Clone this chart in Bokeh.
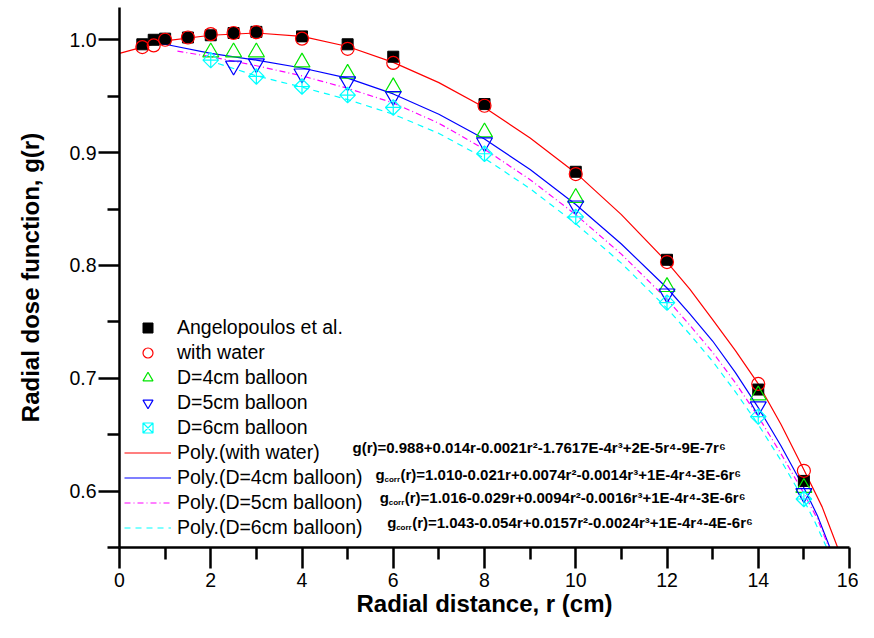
from bokeh.plotting import figure
from bokeh.models import Legend, LegendItem, Label, Range1d, FixedTicker, NumeralTickFormatter
from bokeh.embed import file_html
from bokeh.resources import INLINE
import math

# ---- data ----
r_ang = [0.5, 0.75, 1, 1.5, 2, 2.5, 3, 4, 5, 6, 8, 10, 12, 14, 15]
g_ang = [0.996, 1.000, 1.001, 1.002, 1.004, 1.006, 1.007, 1.003, 0.996, 0.985, 0.943, 0.883, 0.805, 0.690, 0.609]

r_water = [0.5, 0.75, 1, 1.5, 2, 2.5, 3, 4, 5, 6, 8, 10, 12, 14, 15]
g_water = [0.9935, 0.995, 1.000, 1.002, 1.005, 1.006, 1.0067, 1.001, 0.992, 0.9795, 0.9415, 0.881, 0.803, 0.695, 0.618]

r_d4 = [2, 2.5, 3, 4, 5, 6, 8, 10, 12, 14, 15]
g_d4 = [0.989, 0.989, 0.989, 0.980, 0.970, 0.958, 0.918, 0.860, 0.781, 0.685, 0.603]

r_d5 = [2.5, 3, 4, 5, 6, 8, 10, 12, 14, 15]
g_d5 = [0.977, 0.979, 0.970, 0.963, 0.950, 0.909, 0.853, 0.775, 0.675, 0.598]

r_d6 = [2, 3, 4, 5, 6, 8, 10, 12, 14, 15]
g_d6 = [0.982, 0.9675, 0.9586, 0.951, 0.940, 0.899, 0.843, 0.767, 0.666, 0.593]

# polynomial trend lines
fit_water_r = [0, 1, 2, 3, 4, 5, 6, 7, 8, 9, 10, 11, 12, 12.5, 13, 13.5, 14, 14.5, 15, 15.4, 15.74]
fit_water_g = [0.988, 0.999, 1.004, 1.006, 1.003, 0.994, 0.980, 0.962, 0.940, 0.913, 0.882, 0.845, 0.803, 0.779, 0.752, 0.7245, 0.695, 0.659, 0.619, 0.586, 0.55]

fit_d4_r = [0.75, 1, 2, 3, 4, 5, 6, 7, 8, 9, 10, 11, 12, 12.5, 13, 13.5, 14, 14.5, 15, 15.3, 15.57]
fit_d4_g = [0.997, 0.996, 0.988, 0.982, 0.975, 0.966, 0.952, 0.934, 0.912, 0.885, 0.854, 0.819, 0.780, 0.757, 0.733, 0.705, 0.674, 0.640, 0.603, 0.578, 0.55]

fit_d5_r = [1.27, 2, 3, 4, 5, 6, 7, 8, 9, 10, 11, 12, 12.5, 13, 13.5, 14, 14.5, 15, 15.3, 15.55]
fit_d5_g = [0.990, 0.985, 0.977, 0.968, 0.957, 0.944, 0.926, 0.903, 0.876, 0.845, 0.810, 0.770, 0.747, 0.723, 0.696, 0.666, 0.633, 0.598, 0.575, 0.55]

fit_d6_r = [2.16, 3, 4, 5, 6, 7, 8, 9, 10, 11, 12, 12.5, 13, 13.5, 14, 14.5, 15, 15.25, 15.5]
fit_d6_g = [0.979, 0.968, 0.958, 0.947, 0.934, 0.917, 0.895, 0.868, 0.837, 0.802, 0.762, 0.739, 0.715, 0.688, 0.659, 0.627, 0.592, 0.572, 0.55]

x_ticks = [0, 2, 4, 6, 8, 10, 12, 14, 16]
x_minor = [1, 3, 5, 7, 9, 11, 13, 15]
y_ticks = [0.6, 0.7, 0.8, 0.9, 1.0]
y_minor = [0.55, 0.65, 0.75, 0.85, 0.95]

eq_water = "g(r)=0.988+0.014r-0.0021r\u00b2-1.7617E-4r\u00b3+2E-5r\u2074-9E-7r\u2076"
eq_d4 = "(r)=1.010-0.021r+0.0074r\u00b2-0.0014r\u00b3+1E-4r\u2074-3E-6r\u2076"
eq_d5 = "(r)=1.016-0.029r+0.0094r\u00b2-0.0016r\u00b3+1E-4r\u2074-3E-6r\u2076"
eq_d6 = "(r)=1.043-0.054r+0.0157r\u00b2-0.0024r\u00b3+1E-4r\u2074-4E-6r\u2076"

FONT = "Liberation Sans"

p = figure(frame_width=730, frame_height=540,
           x_range=Range1d(0, 16), y_range=Range1d(0.55, 1.0286),
           output_backend="svg", toolbar_location=None,
           min_border_left=119, min_border_right=9, min_border_top=7, min_border_bottom=75)
p.outline_line_color = None
p.xgrid.visible = False
p.ygrid.visible = False
p.background_fill_color = "white"
p.border_fill_color = "white"

for ax in (p.xaxis[0], p.yaxis[0]):
    ax.axis_line_width = 2.5
    ax.axis_line_color = "black"
    ax.major_tick_line_width = 2.5
    ax.minor_tick_line_width = 2.5
    ax.major_tick_in = 0
    ax.minor_tick_in = 0
    ax.major_tick_out = 21
    ax.minor_tick_out = 12
    ax.major_label_text_font = FONT
    ax.major_label_text_font_size = "19.5px"
    ax.major_label_text_color = "black"
    ax.axis_label_text_font = FONT
    ax.axis_label_text_font_style = "bold"
    ax.axis_label_text_font_size = "24px"
    ax.axis_label_text_color = "black"

p.xaxis.ticker = FixedTicker(ticks=x_ticks, minor_ticks=x_minor)
p.yaxis.ticker = FixedTicker(ticks=y_ticks, minor_ticks=y_minor)
p.yaxis.formatter = NumeralTickFormatter(format="0.0")
p.xaxis.major_label_standoff = 4
p.yaxis.major_label_standoff = 2
p.xaxis.axis_label = "Radial distance, r (cm)"
p.yaxis.axis_label = "Radial dose function, g(r)"
p.xaxis.axis_label_standoff = 0
p.yaxis.axis_label_standoff = 22

# trend lines
l_w = p.line(fit_water_r, fit_water_g, line_color="#FF0000", line_width=1.2)
l_4 = p.line(fit_d4_r, fit_d4_g, line_color="#0000FF", line_width=1.2)
l_5 = p.line(fit_d5_r, fit_d5_g, line_color="#FF00FF", line_width=1.2, line_dash="6 3 1 3")
l_6 = p.line(fit_d6_r, fit_d6_g, line_color="#00FFFF", line_width=1.2, line_dash="6 5")

# data markers
s_ang = p.scatter(r_ang, g_ang, marker="square", size=11, fill_color="black", line_color="black")
s_w = p.scatter(r_water, g_water, marker="circle", size=13, fill_color=None, line_color="#FF0000", line_width=1.2)
s_4 = p.scatter(r_d4, g_d4, marker="triangle", size=16, fill_color=None, line_color="#00E600", line_width=1.2)
s_5 = p.scatter(r_d5, g_d5, marker="inverted_triangle", size=16, fill_color=None, line_color="#0000FF", line_width=1.2)
s_6 = p.scatter(r_d6, g_d6, marker="square_x", size=11, angle=math.pi / 4, fill_color=None, line_color="#00FFFF", line_width=1.2)

legend = Legend(items=[
    LegendItem(label="Angelopoulos et al.", renderers=[s_ang]),
    LegendItem(label="with water", renderers=[s_w]),
    LegendItem(label="D=4cm balloon", renderers=[s_4]),
    LegendItem(label="D=5cm balloon", renderers=[s_5]),
    LegendItem(label="D=6cm balloon", renderers=[s_6]),
    LegendItem(label="Poly.(with water)", renderers=[l_w]),
    LegendItem(label="Poly.(D=4cm balloon)", renderers=[l_4]),
    LegendItem(label="Poly.(D=5cm balloon)", renderers=[l_5]),
    LegendItem(label="Poly.(D=6cm balloon)", renderers=[l_6]),
], location=(5, 7))
legend.padding = 0
legend.margin = 0
legend.spacing = 0
legend.glyph_width = 47
legend.glyph_height = 25
legend.label_height = 25
legend.label_standoff = 6
legend.label_text_font = FONT
legend.label_text_font_size = "19.5px"
legend.label_text_color = "black"
legend.border_line_alpha = 0
legend.background_fill_alpha = 0
p.add_layout(legend, "center")

# equations
def eq_label(x, y, text, size="15px", x_offset=0):
    p.add_layout(Label(x=x, y=y, text=text, x_offset=x_offset, text_font=FONT,
                       text_font_style="bold", text_font_size=size,
                       text_baseline="middle", text_align="left", text_color="black"))

eq_label(5.107, 0.6387, eq_water)
for (x, y, t) in [(5.61, 0.6151, eq_d4), (5.704, 0.5943, eq_d5), (5.866, 0.5721, eq_d6)]:
    eq_label(x, y, "g")
    eq_label(x, y - 0.0045, "corr", size="8px", x_offset=9)
    eq_label(x, y, t, x_offset=25)

open("out.html", "w").write(file_html(p, INLINE))
